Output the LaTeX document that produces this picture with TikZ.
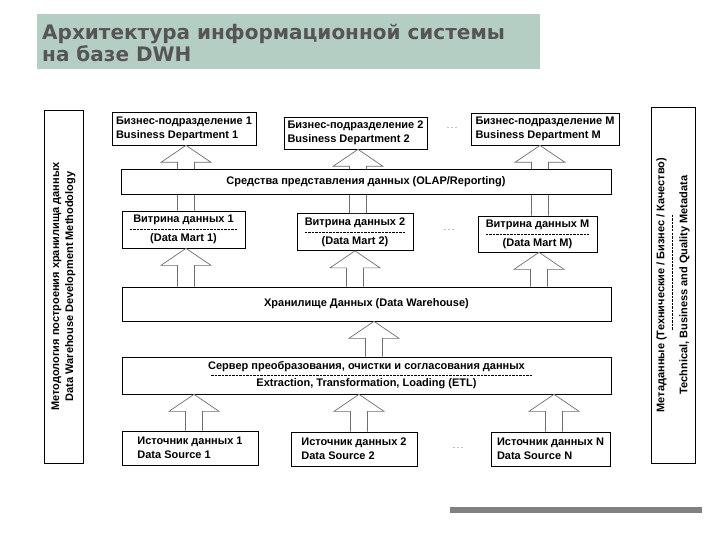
\documentclass[tikz,border=0pt]{standalone}
\usepackage{fontspec}
\setmainfont{Liberation Sans}
\newfontfamily\titlefont{DejaVu Sans}
\usetikzlibrary{calc}

\definecolor{titlebg}{RGB}{181,206,196}
\definecolor{titletext}{RGB}{85,85,85}
\definecolor{arrowgray}{RGB}{110,110,110}

\tikzset{
  unitbox/.style={draw, line width=0.7pt, fill=white, inner sep=0pt,
    font=\bfseries\fontsize{11}{14}\selectfont},
  blockarrow/.style={draw=arrowgray, line width=0.7pt, fill=white},
  sepline/.style={dash pattern=on 2.5pt off 1pt, line width=0.5pt},
  dotsmark/.style={font=\fontsize{9}{9}\selectfont, text=black!60}
}

% block arrow: x, from node, to node
\newcommand\blockarr[3]{%
  \draw[blockarrow] let \p1=(#2.north), \p2=(#3.south) in
    ({#1pt-8.5pt},\y1) -- ({#1pt-8.5pt},{\y2-17pt}) -- ({#1pt-25pt},{\y2-17pt})
    -- ({#1pt},\y2) -- ({#1pt+25pt},{\y2-17pt}) -- ({#1pt+8.5pt},{\y2-17pt})
    -- ({#1pt+8.5pt},\y1);}

\begin{document}
\begin{tikzpicture}[x=1pt,y=-1pt]
\useasboundingbox (0,0) rectangle (720,540);
%title
\fill[titlebg] (37,14) rectangle (540,69);
\node[anchor=west, inner sep=0pt, align=left, text=titletext,
    font=\titlefont\bfseries\fontsize{20}{22}\selectfont] (title) at (42,42.5)
    {Архитектура информационной системы\\на базе DWH};

%side boxes
\node[unitbox, rotate=90, minimum width=353pt, minimum height=39pt, align=center]
    (method) at (63.5,286.5)
    {Методология построения хранилища данных\\Data Warehouse Development Methodology};
\node[unitbox, rotate=90, minimum width=356pt, minimum height=44pt, align=center]
    (meta) at (673,285)
    {Метаданные (Технические / Бизнес / Качество)\\[9pt]Technical, Business and Quality Metadata};
\draw[sepline] (672,215) -- (672,330);

%business departments
\node[unitbox, minimum width=144pt, minimum height=33pt, align=left] (bd1) at (184,128.5)
    {Бизнес-подразделение 1\\Business Department 1};
\node[unitbox, minimum width=143pt, minimum height=32pt, align=left] (bd2) at (355.5,133)
    {Бизнес-подразделение 2\\Business Department 2};
\node[unitbox, minimum width=148pt, minimum height=32pt, align=left] (bdm) at (545,129)
    {Бизнес-подразделение M\\Business Department M};
\node[dotsmark] (dotsbd) at (452,128) {.\,.\,.};

%data marts
\node[unitbox, minimum width=123pt, minimum height=37pt, align=center] (dm1) at (183.5,229.5)
    {Витрина данных 1\\[5pt](Data Mart 1)};
\node[unitbox, minimum width=116pt, minimum height=37pt, align=center] (dm2) at (355,232)
    {Витрина данных 2\\[5pt](Data Mart 2)};
\node[unitbox, minimum width=119pt, minimum height=36pt, align=center] (dmm) at (537.5,234)
    {Витрина данных M\\[5pt](Data Mart M)};
\node[dotsmark] (dotsdm) at (449,230) {.\,.\,.};
\draw[sepline] ([xshift=8pt]dm1.west) -- ([xshift=-8pt]dm1.east);
\draw[sepline] ([xshift=8pt]dm2.west) -- ([xshift=-8pt]dm2.east);
\draw[sepline] ([xshift=8pt]dmm.west) -- ([xshift=-8pt]dmm.east);

\blockarr{186}{dm1}{bd1}
\blockarr{358}{dm2}{bd2}
\blockarr{540}{dmm}{bdm}

\node[unitbox, minimum width=490pt, minimum height=25pt] (olap) at (366,181.5)
    {Средства представления данных (OLAP/Reporting)};

%warehouse and etl
\node[unitbox, minimum width=489pt, minimum height=34pt] (dw) at (366.5,304)
    {Хранилище Данных (Data Warehouse)};
\node[unitbox, minimum width=489pt, minimum height=37pt, align=center] (etl) at (366.5,375.5)
    {Сервер преобразования, очистки и согласования данных\\[3pt]Extraction, Transformation, Loading (ETL)};
\draw[sepline] (211,375.5) -- (532,375.5);

%sources
\node[unitbox, minimum width=136pt, minimum height=34pt, align=left] (src1) at (190,448)
    {Источник данных 1\\Data Source 1};
\node[unitbox, minimum width=126pt, minimum height=34pt, align=left] (src2) at (354,449)
    {Источник данных 2\\Data Source 2};
\node[unitbox, minimum width=119pt, minimum height=34pt, align=left] (srcn) at (550.5,449)
    {Источник данных N\\Data Source N};
\node[dotsmark] (dotssrc) at (458,448) {.\,.\,.};

\blockarr{186}{dw}{dm1}
\blockarr{355}{dw}{dm2}
\blockarr{539}{dw}{dmm}
\blockarr{374}{etl}{dw}
\blockarr{194}{src1}{etl}
\blockarr{359}{src2}{etl}
\blockarr{554}{srcn}{etl}

\fill[black!50] (450,507) rectangle (702,513);
\end{tikzpicture}
\end{document}
